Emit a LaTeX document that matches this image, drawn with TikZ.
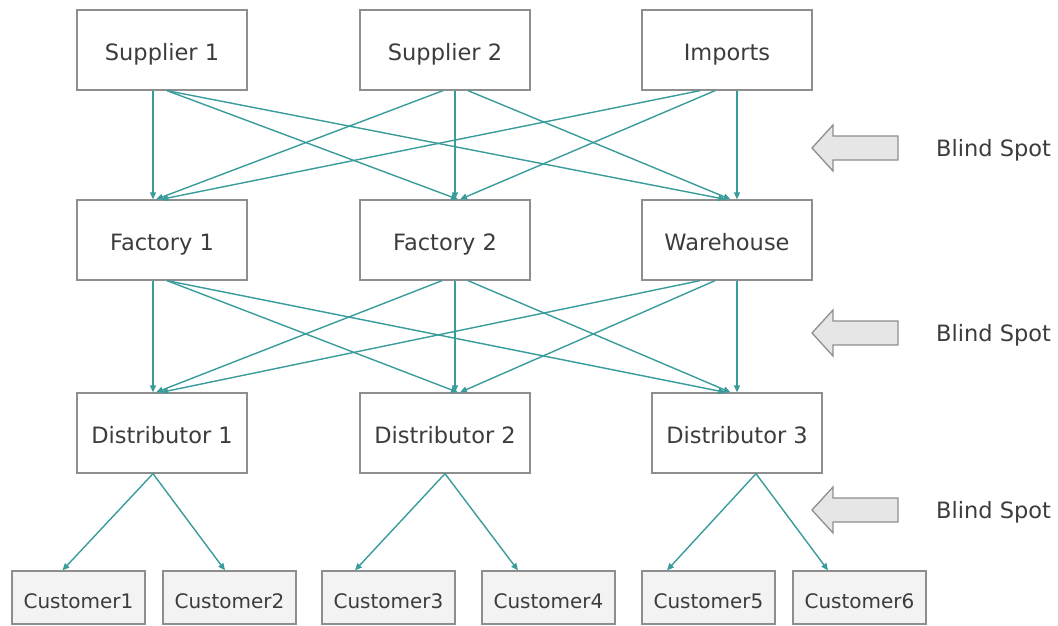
\documentclass[tikz,border=0pt]{standalone}
\usepackage{fontspec}
\setmainfont{DejaVu Sans}
\usetikzlibrary{arrows.meta}
\definecolor{boxline}{HTML}{8E8E8E}
\definecolor{txt}{HTML}{3C3C3C}
\definecolor{teal1}{HTML}{3A9B9B}
\definecolor{custfill}{HTML}{F3F3F3}
\definecolor{bsfill}{HTML}{E6E6E6}
\tikzset{
  box/.style={draw=boxline, line width=1.3pt, minimum width=170pt, minimum height=80pt, inner sep=0pt, text=txt, font=\fontsize{22.5}{26}\selectfont, text height=20.5pt, text depth=0pt},
  cust/.style={draw=boxline, line width=1.3pt, fill=custfill, minimum width=133pt, minimum height=53pt, inner sep=0pt, text=txt, font=\fontsize{20}{24}\selectfont, text height=21pt, text depth=0pt},
  conn/.style={draw=teal1, line width=1.4pt, -{Triangle[length=7pt,width=6pt]}},
  bsarrow/.style={draw=boxline, line width=1.3pt, fill=bsfill, line join=miter},
  bslabel/.style={anchor=west, inner sep=0pt, text=txt, font=\fontsize{22.5}{26}\selectfont, text height=16.4pt, text depth=0pt}
}
\begin{document}
\begin{tikzpicture}[x=1pt,y=-1pt]
\useasboundingbox (0,0) rectangle (1058,626);
% row 1
\node[box] (s1) at (162,50) {Supplier 1};
\node[box] (s2) at (445,50) {Supplier 2};
\node[box] (im) at (727,50) {Imports};
% row 2
\node[box] (f1) at (162,240) {Factory 1};
\node[box] (f2) at (445,240) {Factory 2};
\node[box] (wh) at (727,240) {Warehouse};
% row 3
\node[box] (d1) at (162,433) {Distributor 1};
\node[box] (d2) at (445,433) {Distributor 2};
\node[box] (d3) at (737,433) {Distributor 3};
% row 4
\node[cust] (c1) at (78.5,597.5) {Customer1};
\node[cust] (c2) at (229.5,597.5) {Customer2};
\node[cust] (c3) at (388.5,597.5) {Customer3};
\node[cust] (c4) at (548.5,597.5) {Customer4};
\node[cust] (c5) at (708.5,597.5) {Customer5};
\node[cust] (c6) at (859.5,597.5) {Customer6};
% connectors row 1 -> 2
\draw[conn] ([xshift=-9pt]s1.south) -- ([xshift=-9pt]f1.north);
\draw[conn] ([xshift=5pt]s1.south) -- ([xshift=13pt]f2.north);
\draw[conn] ([xshift=5pt]s1.south) -- ([xshift=-1.5pt]wh.north);
\draw[conn] ([xshift=-2pt]s2.south) -- ([xshift=-6pt]f1.north);
\draw[conn] ([xshift=10pt]s2.south) -- ([xshift=10pt]f2.north);
\draw[conn] ([xshift=23pt]s2.south) -- ([xshift=3.5pt]wh.north);
\draw[conn] ([xshift=-27pt]im.south) -- ([xshift=-1pt]f1.north);
\draw[conn] ([xshift=-12pt]im.south) -- ([xshift=15pt]f2.north);
\draw[conn] ([xshift=10pt]im.south) -- ([xshift=10pt]wh.north);
% connectors row 2 -> 3
\draw[conn] ([xshift=-9pt]f1.south) -- ([xshift=-9pt]d1.north);
\draw[conn] ([xshift=5pt]f1.south) -- ([xshift=13pt]d2.north);
\draw[conn] ([xshift=5pt]f1.south) -- ([xshift=-11.5pt]d3.north);
\draw[conn] ([xshift=-3pt]f2.south) -- ([xshift=-6pt]d1.north);
\draw[conn] ([xshift=10pt]f2.south) -- ([xshift=10pt]d2.north);
\draw[conn] ([xshift=23pt]f2.south) -- ([xshift=-6.5pt]d3.north);
\draw[conn] ([xshift=-27pt]wh.south) -- ([xshift=-1pt]d1.north);
\draw[conn] ([xshift=-12pt]wh.south) -- ([xshift=15pt]d2.north);
\draw[conn] ([xshift=10pt]wh.south) -- ([xshift=0pt]d3.north);
% connectors row 3 -> 4
\draw[conn] ([xshift=-9pt]d1.south) -- ([xshift=-16pt]c1.north);
\draw[conn] ([xshift=-9pt]d1.south) -- ([xshift=-4.5pt]c2.north);
\draw[conn] (d2.south) -- ([xshift=-33.5pt]c3.north);
\draw[conn] (d2.south) -- ([xshift=-30.5pt]c4.north);
\draw[conn] ([xshift=19pt]d3.south) -- ([xshift=-41.5pt]c5.north);
\draw[conn] ([xshift=19pt]d3.south) -- ([xshift=-31.5pt]c6.north);
% blind spot arrows
\draw[bsarrow] (812,148) -- (833,125) -- (833,136) -- (898,136) -- (898,160) -- (833,160) -- (833,171) -- cycle;
\draw[bsarrow] (812,333) -- (833,310) -- (833,321) -- (898,321) -- (898,345) -- (833,345) -- (833,356) -- cycle;
\draw[bsarrow] (812,510) -- (833,487) -- (833,498) -- (898,498) -- (898,522) -- (833,522) -- (833,533) -- cycle;
\node[bslabel] (b1) at (936,148) {Blind Spot};
\node[bslabel] (b2) at (936,333) {Blind Spot};
\node[bslabel] (b3) at (936,510) {Blind Spot};
\end{tikzpicture}
\end{document}
